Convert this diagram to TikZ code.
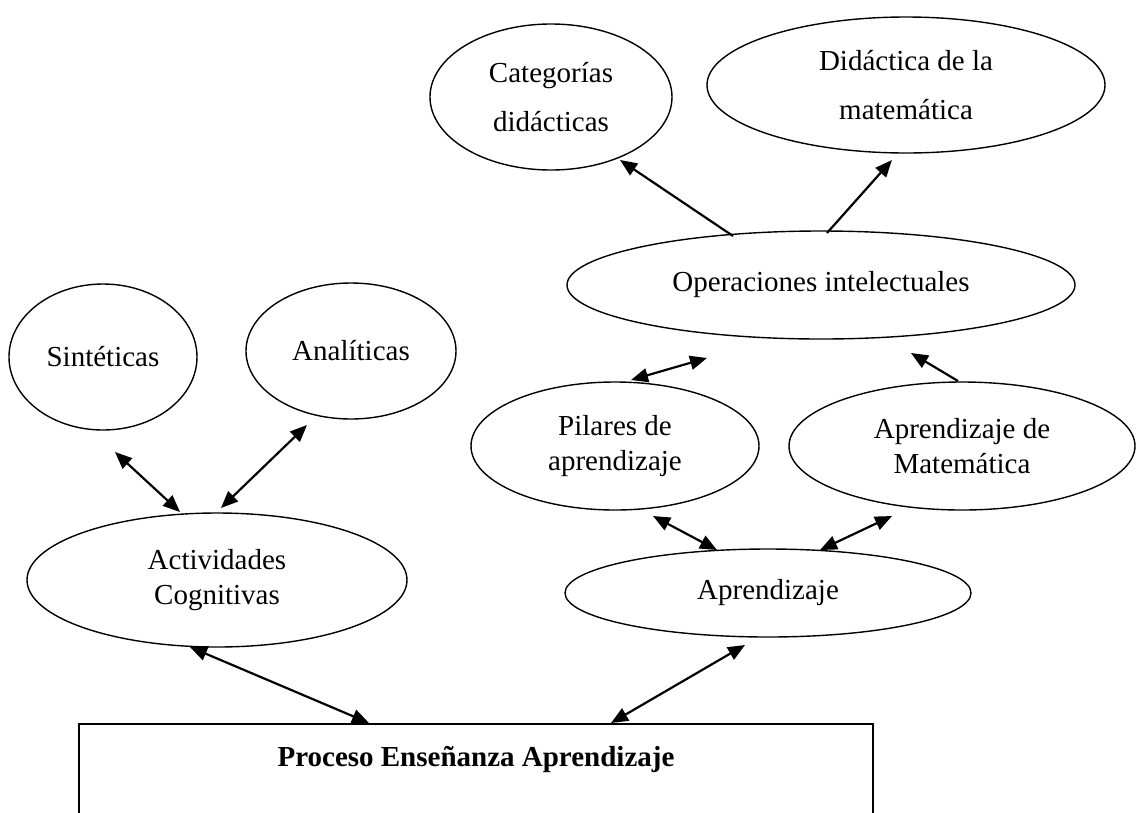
\documentclass[tikz,border=0pt]{standalone}
\usepackage{fontspec}
\setmainfont{Liberation Serif}
\usetikzlibrary{shapes.geometric,arrows.meta}
\begin{document}
\begin{tikzpicture}[x=1pt,y=-1pt,
  bubble/.style={draw, ellipse, line width=1.4pt, inner sep=0pt, align=center,
    font=\fontsize{29}{35}\selectfont},
  wide/.style={font=\fontsize{29}{49}\selectfont},
  tip/.tip={Triangle[length=17pt,width=14pt]},
  link/.style={line width=2.2pt, -tip},
  both/.style={line width=2.2pt, tip-tip}]
\useasboundingbox (0,0) rectangle (1137,812);
\clip (0,0) rectangle (1137,812);

% concept bubbles
\node[bubble, wide, minimum width=242pt, minimum height=146pt] (cat) at (551,97) {Categorías\\didácticas};
\node[bubble, wide, minimum width=398pt, minimum height=136pt] (did) at (906,85) {Didáctica de la\\matemática};
\node[bubble, minimum width=508pt, minimum height=108pt] (oper) at (821,285) {Operaciones intelectuales};
\node[bubble, minimum width=188pt, minimum height=146pt] (sint) at (103,357) {Sintéticas};
\node[bubble, minimum width=210pt, minimum height=136pt] (anal) at (351,351) {Analíticas};
\node[bubble, minimum width=380pt, minimum height=134pt] (act) at (217,580) {Actividades\\Cognitivas};
\node[bubble, minimum width=288pt, minimum height=128pt] (pil) at (615,446) {Pilares de\\aprendizaje};
\node[bubble, minimum width=346pt, minimum height=128pt] (mat) at (962,446) {Aprendizaje de\\Matemática};
\node[bubble, minimum width=406pt, minimum height=88pt] (apr) at (768,593) {Aprendizaje};

% main box, running past the lower edge
\node[draw, line width=2pt, rectangle, anchor=north, inner sep=0pt,
  minimum width=794pt, text height=42pt, text depth=150pt,
  font=\fontsize{29}{35}\selectfont\bfseries] (proc) at (476,723) {Proceso Enseñanza Aprendizaje};

% connector end points
\coordinate (oper-cat) at (733,236);
\coordinate (cat-oper) at (620,160);
\coordinate (oper-did) at (827,233);
\coordinate (did-oper) at (892,160);
\coordinate (pil-oper) at (631,380);
\coordinate (oper-pil) at (707,358);
\coordinate (mat-oper) at (958,381);
\coordinate (oper-mat) at (911,353);
\coordinate (sint-act) at (115,452);
\coordinate (act-sint) at (180,512);
\coordinate (anal-act) at (307,425);
\coordinate (act-anal) at (221,508);
\coordinate (pil-apr) at (653,516);
\coordinate (apr-pil) at (717,550);
\coordinate (mat-apr) at (892,516);
\coordinate (apr-mat) at (820,550);
\coordinate (act-proc) at (190,647);
\coordinate (proc-act) at (369,723);
\coordinate (apr-proc) at (745,645);
\coordinate (proc-apr) at (611,723);

% connectors
\draw[link] (oper-cat) -- (cat-oper);
\draw[link] (oper-did) -- (did-oper);
\draw[both] (pil-oper) -- (oper-pil);
\draw[link] (mat-oper) -- (oper-mat);
\draw[both] (sint-act) -- (act-sint);
\draw[both] (anal-act) -- (act-anal);
\draw[both] (pil-apr) -- (apr-pil);
\draw[both] (mat-apr) -- (apr-mat);
\draw[both] (act-proc) -- (proc-act);
\draw[both] (apr-proc) -- (proc-apr);
\end{tikzpicture}
\end{document}
